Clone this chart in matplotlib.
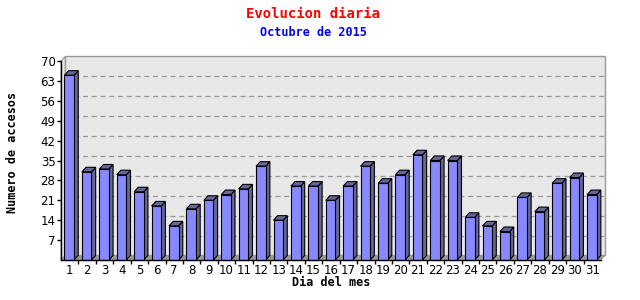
import numpy as np
import matplotlib.pyplot as plt
from matplotlib.patches import Polygon

# visitas por dia, octubre 2015
days = list(range(1, 32))
visits = [65, 31, 32, 30, 24, 19, 12, 18, 21, 23, 25, 33, 14, 26, 26, 21,
          26, 33, 27, 30, 37, 35, 35, 15, 12, 10, 22, 17, 27, 29, 23]
yticks = [7, 14, 21, 28, 35, 42, 49, 56, 63, 70]

FACE = '#8888ff'
SIDE = '#666699'
WALL = '#e8e8e8'
FLOOR = '#999999'

fig = plt.figure(figsize=(6.4, 3.0), dpi=100)
ax = fig.add_axes([61 / 640, 40 / 300, 540 / 640, 199 / 300])
ax.set_xlim(0.5, 31.5)
ax.set_ylim(0, 70)
ax.patch.set_visible(False)

# profundidad 3D en unidades de datos (~4px)
dx = 0.24
dy = 1.6


def poly(pts, fc, ec, lw=0.8, z=1):
    ax.add_patch(Polygon(pts, closed=True, facecolor=fc, edgecolor=ec,
                         linewidth=lw, clip_on=False, zorder=z))


# pared del fondo y lateral
x0, x1 = 0.5, 31.5
poly([(x0 + dx, dy), (x1 + dx, dy), (x1 + dx, 70 + dy), (x0 + dx, 70 + dy)], WALL, '#999999', 1.0, 0)
poly([(x0, 0), (x0 + dx, dy), (x0 + dx, 70 + dy), (x0, 70)], WALL, '#999999', 0.8, 0)

# rejilla en la pared
for v in yticks[:-1]:
    ax.plot([x0 + dx, x1 + dx], [v + dy, v + dy], color='#999999', lw=0.9,
            ls=(0, (4, 3)), zorder=0.5, clip_on=False)

# suelo
poly([(x0, 0), (x1, 0), (x1 + dx, dy), (x0 + dx, dy)], FLOOR, FLOOR, 0.5, 0.8)

# barras 3D
w = 0.55
for d, v in zip(days, visits):
    b = d - 0.3
    poly([(b + w, 0), (b + w + dx, dy), (b + w + dx, v + dy), (b + w, v)], SIDE, 'black', 0.8, 2)
    poly([(b, v), (b + w, v), (b + w + dx, v + dy), (b + dx, v + dy)], SIDE, 'black', 0.8, 2)
    poly([(b, 0), (b + w, 0), (b + w, v), (b, v)], FACE, 'black', 0.8, 3)

for s in ['top', 'right']:
    ax.spines[s].set_visible(False)
ax.spines['left'].set_linewidth(1.0)
ax.spines['bottom'].set_linewidth(1.0)
ax.spines['left'].set_zorder(4)
ax.spines['bottom'].set_zorder(4)

ax.set_yticks(yticks)
ax.set_yticklabels([str(t) for t in yticks], fontsize=8.5)
ax.tick_params(axis='y', length=3, width=1, pad=1)
ax.set_xticks(days)
ax.set_xticklabels([str(d) for d in days], fontsize=8.5)
ax.tick_params(axis='x', length=0, pad=3)
ax.set_xticks(np.arange(1.5, 31.5, 1), minor=True)
ax.tick_params(axis='x', which='minor', length=3, width=1)

mono = 'DejaVu Sans Mono'
ax.set_xlabel('Dia del mes', fontsize=8.5, family=mono, fontweight='bold', labelpad=-1)
ax.set_ylabel('Numero de accesos', fontsize=8.5, family=mono, fontweight='bold')
ax.yaxis.set_label_coords(-0.077, 0.543)

fig.text(313 / 640, 1 - 14 / 300, 'Evolucion diaria', color='red', fontsize=10,
         family=mono, fontweight='bold', ha='center', va='center')
fig.text(313 / 640, 1 - 32 / 300, 'Octubre de 2015', color='blue', fontsize=8.5,
         family=mono, fontweight='bold', ha='center', va='center')

fig.savefig('out.png', dpi=100)
